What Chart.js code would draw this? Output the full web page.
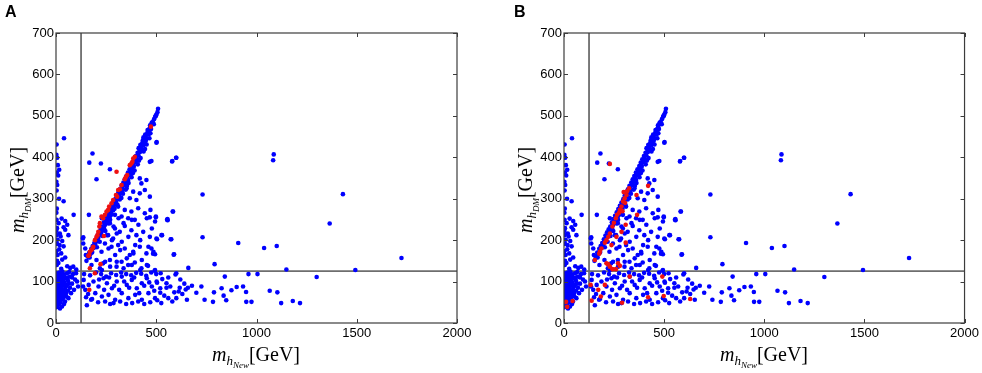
<!DOCTYPE html>
<html>
<head>
<meta charset="utf-8">
<script src="https://cdn.jsdelivr.net/npm/chart.js@4.4.1/dist/chart.umd.min.js"></script>
<style>
  html, body { margin: 0; padding: 0; background: #fff; }
  #wrap { position: relative; width: 982px; height: 373px; overflow: hidden; }
  .panel { position: absolute; top: 0; width: 491px; height: 373px; }
  .letter { position: absolute; font: bold 16px "Liberation Sans", Arial, sans-serif; color: #000; }
  .axt { position: absolute; white-space: nowrap; font-family: "Liberation Serif", "DejaVu Serif", serif;
         font-size: 20px; color: #000; line-height: 1; transform: translate(-50%, -50%); }
  .axt.rot { transform: translate(-50%, -50%) rotate(-90deg); }
  .axt i { font-style: italic; }
  .s1 { font-size: 13px; position: relative; top: 4px; font-style: italic; }
  .s2 { font-size: 9px; position: relative; top: 7px; font-style: italic; }
</style>
</head>
<body>
<div id="wrap">
  <div class="panel" style="left:0"><canvas id="chartA" width="491" height="373"></canvas></div>
  <div class="panel" style="left:491px"><canvas id="chartB" width="491" height="373"></canvas></div>
  <div class="letter" style="left:5px;top:3px">A</div>
  <div class="letter" style="left:514px;top:3px">B</div>
  <div class="axt" style="left:256px;top:354px"><i>m</i><span class="s1">h</span><span class="s2">New</span>[GeV]</div>
  <div class="axt" style="left:764px;top:354px"><i>m</i><span class="s1">h</span><span class="s2">New</span>[GeV]</div>
  <div class="axt rot" style="left:17px;top:190px"><i>m</i><span class="s1">h</span><span class="s2">DM</span>[GeV]</div>
  <div class="axt rot" style="left:525px;top:190px"><i>m</i><span class="s1">h</span><span class="s2">DM</span>[GeV]</div>
</div>
<script>
// axis ranges / ticks
const xTicks = [0, 500, 1000, 1500, 2000];
const yTicks = [0, 100, 200, 300, 400, 500, 600, 700];
const refValue = 125; // grey guide lines (SM Higgs mass)

// blue points (same in both panels), [m_hNew, m_hDM]
const blueAxisUpper = [
  [40,446],[3,431],[2,406],[6,399],[9,381],[16,370],[4,363],[11,356],[2,341],[6,333],[38,294],[4,276],
  [2,266],[88,261],[46,246],[56,237],[3,249],[13,241],[38,231],[46,225],[5,229],[19,216],[23,209],[3,212],
  [8,201],[31,198],[5,191],[38,185],[16,178],[2,173],[26,168],[8,164],[31,153],[46,158],[5,150],[12,145],
  [56,137],[4,140],[71,133],[26,131],[86,136],[101,129],[18,188],[2,222],[62,212],[28,252],[15,300],[3,320]
];
const blueAxisBlob = [
  [2,38],[8,42],[4,47],[15,45],[22,50],[3,55],[10,53],[28,56],[18,60],[5,62],[35,60],[12,66],[25,64],
  [42,65],[3,70],[16,72],[30,70],[50,72],[8,76],[22,78],[38,76],[60,78],[4,82],[14,84],[28,84],[45,82],
  [70,85],[10,90],[20,92],[35,90],[55,92],[3,96],[15,98],[28,97],[42,98],[80,95],[8,102],[22,104],
  [35,103],[60,102],[4,108],[16,110],[30,110],[48,108],[95,105],[10,115],[25,116],[40,114],[70,112],
  [5,120],[18,122],[55,120],[85,118],[32,124],[65,95],[50,88],[75,72],[12,58],[6,88],[40,46],[30,40],
  [62,60],[90,80],[105,100],[100,120],[110,88],[20,35],[45,52],[58,110],[3,100],[7,68],[2,85],[13,106],
  [24,88],[36,118],[52,64],[19,51],[80,110],[66,123],[44,93]
];
const blueBand = [
  [152,150],[157,161],[163,159],[166,170],[171,166],[176,179],[179,173],[183,186],[188,181],[191,193],
  [195,190],[199,202],[203,197],[207,211],[211,206],[215,219],[219,213],[223,226],[227,221],[231,233],
  [236,229],[239,243],[243,237],[247,251],[251,246],[255,259],[259,253],[263,267],[267,261],[271,275],
  [276,269],[279,283],[283,277],[287,291],[291,285],[296,299],[299,293],[303,307],[307,301],[311,315],
  [316,309],[319,323],[323,317],[327,331],[331,325],[336,339],[339,333],[343,347],[347,341],[351,355],
  [356,349],[359,363],[363,357],[367,371],[371,365],[376,379],[379,373],[383,387],[387,381],[391,395],
  [396,389],[399,403],[403,397],[407,411],[411,405],[416,419],[419,413],[423,427],[427,421],[431,435],
  [436,429],[439,443],[443,437],[447,451],[451,445],[456,459],[461,463],[466,469],[471,473],[477,481],
  [483,485],[489,492],[495,498],[501,503],[506,509],[509,517],[498,501],[478,484],[469,477],[457,466],
  [445,455],[433,441],[421,430],[412,422],[448,440],[462,455],[474,468],[488,480],[436,448],[425,417],
  [400,392],[388,377],[372,360],[360,345],[345,333],[330,318],[315,303],[300,288],[285,272],[270,258],
  [255,244],[240,228],[225,214],[210,198],[195,184],[180,170],[168,158],
  [262,240],[278,262],[292,276],[306,286],[318,298],[334,312],[348,322],[362,338],[377,352],[392,368],
  [408,383],[422,398],[437,414],[452,431],[466,446],[246,222],[232,210],[218,196],[204,183],[326,302],
  [354,331],[384,362],[414,392],[444,420],[471,458]
];
const blueUpper = [
  [166,387],[182,409],[224,385],[269,371],[202,347],[164,261],[136,207],[136,192],[149,164],[177,140],
  [219,132],[202,152],[235,144],[269,152],[302,136],[327,148],[360,140],[393,146],[426,132],[459,138],
  [492,126],[227,172],[244,192],[277,184],[310,188],[343,180],[385,172],[418,184],[451,168],[476,180],
  [484,167],[589,166],[368,164],[235,224],[260,212],[285,204],[269,241],[294,228],[318,220],[343,234],
  [376,224],[401,212],[435,220],[468,208],[501,204],[526,212],[575,202],[504,202],[310,281],[343,273],
  [376,269],[410,277],[443,265],[468,255],[498,255],[327,257],[360,253],[294,261],[393,249],[352,325],
  [385,317],[418,313],[443,321],[468,305],[401,297],[368,301],[376,365],[418,349],[451,345],[426,337],
  [468,389],[476,391],[501,435],[580,391],[600,399],[584,269],[554,249],[471,273],[229,253],[245,237],
  [270,249],[287,233],[312,253],[337,241],[378,249],[411,237],[453,253],[478,228],[494,245],[254,212],
  [279,200],[303,216],[328,196],[361,208],[395,188],[420,200],[461,184],[486,172],[262,180],[295,164],
  [320,176],[353,156],[386,168],[428,152],[245,148],[270,136],[303,148],[337,132],[378,140],[420,128],
  [453,140],[494,128],[229,128],[146,180],[134,204],[498,257],[557,248],[529,212],[572,202],[494,166],
  [587,165],[498,500],[502,437],[599,399],[579,390],[582,269],[556,251],[731,310],[660,133],[731,207]
];
const blueLower = [
  [138,104],[163,92],[146,80],[187,100],[212,88],[237,108],[254,96],[279,84],[303,100],[328,112],
  [353,92],[378,104],[403,84],[428,96],[453,108],[478,88],[502,100],[196,72],[229,64],[262,68],
  [295,56],[328,72],[361,60],[395,68],[428,56],[461,72],[494,60],[287,48],[154,43],[140,118],
  [170,115],[200,122],[225,118],[250,112],[275,120],[300,116],[325,122],[350,118],[375,115],[400,121],
  [425,119],[450,114],[475,122],[500,118],[160,70],[180,58],[215,105],[240,80],[265,110],[290,90],
  [315,80],[340,100],[365,85],[390,110],[415,72],[440,90],[465,98],[490,78],[520,84],[504,97],
  [551,96],[617,85],[658,85],[725,88],[551,85],[570,88],[590,74],[612,76],[630,70],[600,60],
  [520,73],[540,66],[560,60],[580,52],[525,48],[505,55],[470,50],[440,46],[410,52],[380,48],
  [350,46],[320,52],[270,46],[245,52],[210,50],[175,56],[150,62],[135,88],[640,95],[620,105],
  [596,117],[560,110],[530,106],[522,120],[600,120],[678,90],[647,81],[653,56],[700,73],[741,56]
];
const blueFar = [
  [1086,407],[1083,393],[1431,311],[1365,240],[1038,181],[1101,186],[909,193],[1723,157],[1149,129],
  [1493,128],[1300,111],[1066,78],[1104,74],[1123,48],[1181,53],[1217,48],[791,142],[842,112],
  [960,118],[975,51],[949,51],[836,66],[849,55],[875,79],[901,87],[933,88],[948,75],[826,84],
  [788,74],[783,51],[1005,118]
];

// red points, panel A
const redA = [
  [473,474],[393,401],[385,397],[381,389],[376,385],[368,381],[355,357],[348,352],[343,347],[327,333],
  [318,323],[310,321],[305,305],[299,309],[285,297],[277,289],[265,281],[260,273],[252,269],[244,261],
  [235,253],[227,257],[219,241],[216,233],[211,220],[207,212],[202,208],[194,200],[186,184],[182,180],
  [177,176],[169,172],[166,164],[161,162],[302,365],[239,210],[222,142],[169,132],[166,80],[194,120]
];
// red points, panel B
const redB = [
  [229,384],[420,331],[362,309],[365,261],[325,325],[312,309],[303,301],[295,293],[287,281],[279,273],
  [275,266],[265,261],[259,253],[249,242],[242,233],[229,216],[221,208],[212,200],[204,194],[187,180],
  [179,172],[176,167],[154,152],[298,316],[315,318],[305,290],[292,270],[308,237],[287,220],[308,194],
  [237,188],[262,208],[212,144],[220,142],[229,136],[242,130],[270,144],[279,138],[259,130],[328,112],
  [290,49],[420,62],[498,65],[491,112],[630,58],[133,92],[171,80],[204,92],[184,64],[138,54],
  [10,51],[16,39],[43,53]
];

const toXY = arr => arr.map(p => ({ x: p[0], y: p[1] }));
const bluePts = toXY([].concat(blueAxisUpper, blueAxisBlob, blueBand, blueUpper, blueLower, blueFar));

const tickFont = { family: '"Liberation Sans", Arial, sans-serif', size: 13 };

// guide lines, frame and inward ticks (matplotlib classic look)
const framePlugin = {
  id: 'frame',
  beforeDatasetsDraw(chart) {
    const { ctx, chartArea: a, scales: { x, y } } = chart;
    ctx.save();
    ctx.strokeStyle = '#6e6e6e';
    ctx.lineWidth = 1.8;
    ctx.beginPath();
    const gx = x.getPixelForValue(refValue), gy = y.getPixelForValue(refValue);
    ctx.moveTo(gx, a.top); ctx.lineTo(gx, a.bottom);
    ctx.moveTo(a.left, gy); ctx.lineTo(a.right, gy);
    ctx.stroke();
    ctx.restore();
  },
  afterDatasetsDraw(chart) {
    const { ctx, chartArea: a, scales: { x, y } } = chart;
    ctx.save();
    ctx.strokeStyle = '#3c3c3c';
    ctx.lineWidth = 1.2;
    ctx.strokeRect(a.left, a.top, a.right - a.left, a.bottom - a.top);
    ctx.lineWidth = 1;
    ctx.beginPath();
    xTicks.forEach(v => {
      const px = Math.round(x.getPixelForValue(v)) + 0.5;
      ctx.moveTo(px, a.bottom); ctx.lineTo(px, a.bottom - 4);
      ctx.moveTo(px, a.top); ctx.lineTo(px, a.top + 4);
    });
    yTicks.forEach(v => {
      const py = Math.round(y.getPixelForValue(v)) + 0.5;
      ctx.moveTo(a.left, py); ctx.lineTo(a.left + 4, py);
      ctx.moveTo(a.right, py); ctx.lineTo(a.right - 4, py);
    });
    ctx.stroke();
    ctx.restore();
  }
};

function makeChart(id, reds, yWidth, rightPad) {
  new Chart(document.getElementById(id), {
    type: 'scatter',
    data: {
      datasets: [
        // red drawn on top of blue
        { data: toXY(reds), backgroundColor: '#ee1111', borderWidth: 0, pointRadius: 2.3, order: 0 },
        { data: bluePts, backgroundColor: '#0000ff', borderWidth: 0, pointRadius: 2.3, order: 1 }
      ]
    },
    options: {
      responsive: false,
      animation: false,
      events: [],
      layout: { padding: { top: 33, right: rightPad, left: 0, bottom: 0 } },
      plugins: { legend: { display: false }, tooltip: { enabled: false } },
      scales: {
        x: {
          type: 'linear', min: 0, max: 2000,
          ticks: { stepSize: 500, color: '#000', font: tickFont, padding: 3, maxRotation: 0,
                   callback: v => String(v) },
          grid: { display: false, drawTicks: false },
          border: { display: false },
          afterFit(s) { s.height = 50; }
        },
        y: {
          type: 'linear', min: 0, max: 700,
          ticks: { stepSize: 100, color: '#000', font: tickFont, padding: 2, callback: v => String(v) },
          grid: { display: false, drawTicks: false },
          border: { display: false },
          afterFit(s) { s.width = yWidth; }
        }
      }
    },
    plugins: [framePlugin]
  });
}

makeChart('chartA', redA, 56, 34);
makeChart('chartB', redB, 73, 17);
</script>
</body>
</html>
